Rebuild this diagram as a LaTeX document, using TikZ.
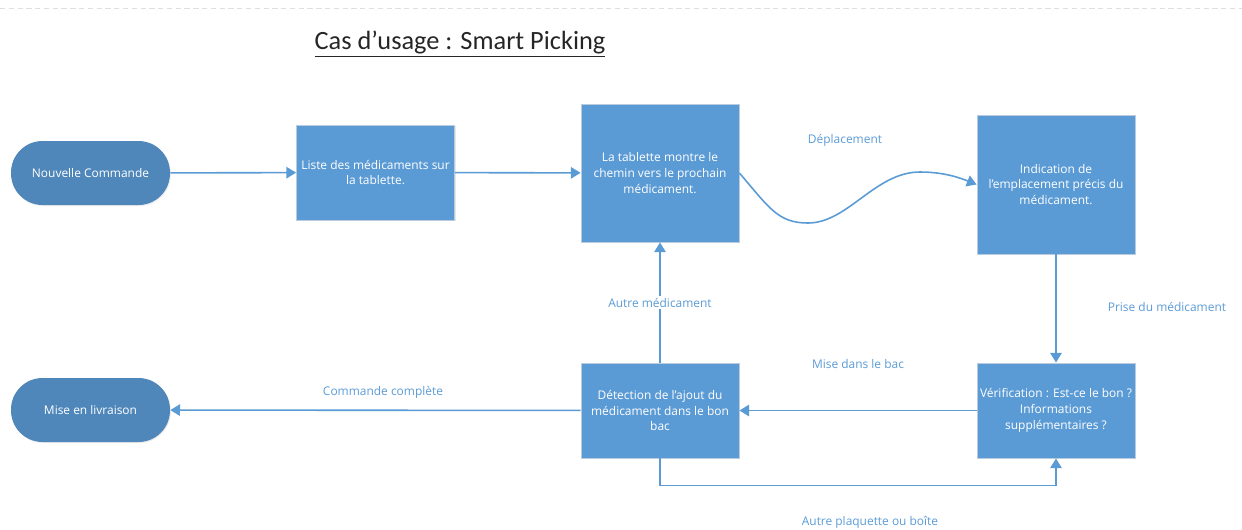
\documentclass[tikz,border=0pt]{standalone}
\usepackage{fontspec}
\setmainfont{Open Sans}
\newfontfamily\titlefont{Carlito}
\usetikzlibrary{arrows.meta,shadows}
\definecolor{boxblue}{HTML}{5B9BD5}
\definecolor{pillblue}{HTML}{4F87BA}
\definecolor{boxline}{HTML}{B9CBDD}
\tikzset{
  ->/.style={draw=boxblue,line width=0.9pt,-{Triangle[length=5.5pt,width=6.5pt]}},
  etape/.style={rectangle,fill=boxblue,draw=boxline,line width=0.5pt,text=white,align=center,
    minimum width=3.16cm,minimum height=1.9cm,inner sep=1pt,
    drop shadow={opacity=0.18,shadow xshift=0.6pt,shadow yshift=-0.8pt}},
  terminal/.style={rectangle,rounded corners=0.63cm,fill=pillblue,text=white,minimum width=3.18cm,minimum height=1.28cm,
    drop shadow={opacity=0.15,shadow xshift=0.5pt,shadow yshift=-0.6pt}},
  lbl/.style={text=boxblue}
}
\tikzstyle{every node}=[font=\fontsize{6.8}{9}\selectfont]

\begin{document}
\begin{tikzpicture}[x=0.02cm,y=-0.02cm]
    \useasboundingbox (0,0) rectangle (1242,529);
    \draw [gray!25,dash pattern=on 3pt off 2pt] (0,8) -- (1242,8);
    \node [font=\titlefont\fontsize{15}{18}\selectfont,text=black!85] (titre) at (460,44) {\underline{Cas d’usage : Smart Picking}};

    \node [terminal] (nouv) at (90.5,173) {Nouvelle Commande};
    \node [etape] (liste) at (375.5,172.5) {Liste des médicaments sur\\la tablette.};
    \node [etape,minimum height=2.76cm] (tab) at (660,173) {La tablette montre le\\chemin vers le prochain\\médicament.};
    \node [etape,minimum height=2.78cm] (ind) at (1056,184.5) {Indication de\\l’emplacement précis du\\médicament.};
    \node [etape] (verif) at (1056,410.5) {Vérification : Est-ce le bon ?\\Informations\\supplémentaires ?};
    \node [etape] (detect) at (660,410.5) {Détection de l’ajout du\\médicament dans le bon\\bac};
    \node [terminal] (livr) at (90.5,410) {Mise en livraison};

    \coordinate (creux) at (808,223);
    \coordinate (crete) at (920,172);

    \draw [->] (nouv) -- (liste);
    \draw [->] (liste) -- (tab);
    \draw [->] (tab.east) .. controls +(30,35) and +(-30,0) .. (creux)
        .. controls +(40,0) and +(-45,0) .. (crete)
        .. controls +(25,0) and +(-15,-6) .. (ind.west);
    \draw [->] (ind) -- (verif);
    \draw [->] (verif) -- (detect);
    \draw [->] (detect) -- (livr);
    \draw [->] (detect) -- node[lbl,fill=white,inner sep=1pt] (autremed) {Autre médicament} (tab);
    \draw [->] (detect.south) -- ++(0,27) -| (verif.south);

    \node [lbl] (deplacement) at (845,140) {Déplacement};
    \node [lbl] (prise) at (1167,307) {Prise du médicament};
    \node [lbl] (misebac) at (858,364) {Mise dans le bac};
    \node [lbl] (complete) at (383,392) {Commande complète};
    \node [lbl] (autreplaq) at (870,522) {Autre plaquette ou boîte};
\end{tikzpicture}
\end{document}
